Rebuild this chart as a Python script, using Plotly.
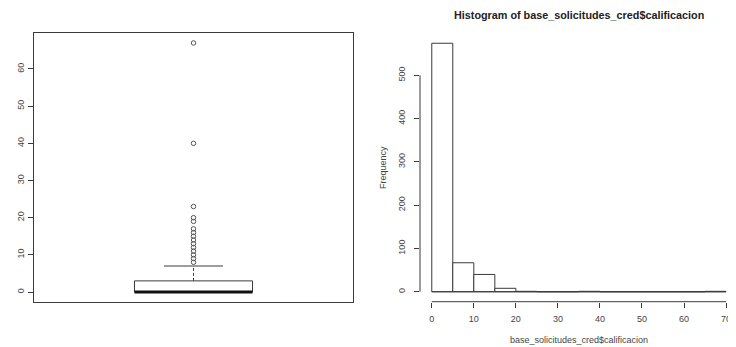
import plotly.graph_objects as go

# ---- data ----
box_q1 = 0
box_median = 0
box_q3 = 3
box_whisker_low = 0
box_whisker_high = 7
box_outliers = [8, 9, 10, 11, 12, 13, 14, 15, 16, 17, 19, 20, 23, 40, 67]
box_yticks = [0, 10, 20, 30, 40, 50, 60]

hist_edges = [0, 5, 10, 15, 20, 25, 30, 35, 40, 45, 50, 55, 60, 65, 70]
hist_counts = [574, 67, 40, 8, 1, 0, 0, 1, 0, 0, 0, 0, 0, 1]
hist_xticks = [0, 10, 20, 30, 40, 50, 60, 70]
hist_yticks = [0, 100, 200, 300, 400, 500]

hist_title = "Histogram of base_solicitudes_cred$calificacion"
hist_xlabel = "base_solicitudes_cred$calificacion"
hist_ylabel = "Frequency"

# ---- style ----
OFF = 8  # default page body margin
W, H = 736 - OFF, 347 - OFF
LINE = "#3a3a3a"
TXT = "#444444"
FONT = "Liberation Sans, Arial, sans-serif"

def px_x(p):
    return (p - OFF) / W

def px_y(p):
    return 1 - (p - OFF) / H

fig = go.Figure()

# ---- boxplot (left) ----
c = 1.0
hw = 0.185
cw = 0.0925
fig.add_trace(go.Scatter(
    x=[c - hw, c + hw, c + hw, c - hw, c - hw],
    y=[box_q1, box_q1, box_q3, box_q3, box_q1],
    mode="lines", line=dict(color=LINE, width=1), xaxis="x", yaxis="y",
    hoverinfo="skip"))
fig.add_trace(go.Scatter(
    x=[c - hw, c + hw], y=[box_median, box_median],
    mode="lines", line=dict(color="#111111", width=3), xaxis="x", yaxis="y",
    hoverinfo="skip"))
fig.add_trace(go.Scatter(
    x=[c, c], y=[box_q3, box_whisker_high],
    mode="lines", line=dict(color=LINE, width=1, dash="3px,2px"), xaxis="x", yaxis="y",
    hoverinfo="skip"))
fig.add_trace(go.Scatter(
    x=[c - cw, c + cw], y=[box_whisker_high, box_whisker_high],
    mode="lines", line=dict(color=LINE, width=1), xaxis="x", yaxis="y",
    hoverinfo="skip"))
fig.add_trace(go.Scatter(
    x=[c] * len(box_outliers), y=box_outliers,
    mode="markers", marker=dict(symbol="circle-open", size=4.5, color="#555555",
                                line=dict(width=1)),
    xaxis="x", yaxis="y", hoverinfo="skip"))

# ---- histogram (right) ----
centers = [(a + b) / 2 for a, b in zip(hist_edges[:-1], hist_edges[1:])]
widths = [b - a for a, b in zip(hist_edges[:-1], hist_edges[1:])]
fig.add_trace(go.Bar(
    x=centers, y=hist_counts, width=widths,
    marker=dict(color="white", line=dict(color=LINE, width=1)),
    xaxis="x2", yaxis="y2", hoverinfo="skip"))
fig.add_trace(go.Scatter(
    x=[hist_edges[0], hist_edges[-1]], y=[0, 0],
    mode="lines", line=dict(color=LINE, width=1),
    xaxis="x2", yaxis="y2", hoverinfo="skip"))

axis_common = dict(showgrid=False, zeroline=False, linecolor=LINE, tickcolor=LINE,
                   tickfont=dict(family=FONT, size=9, color=TXT))

fig.update_layout(
    width=W, height=H, margin=dict(l=0, r=0, t=0, b=0),
    paper_bgcolor="white", plot_bgcolor="white", showlegend=False,
    font=dict(family=FONT, color=TXT),
    xaxis=dict(domain=[px_x(34), px_x(353)], range=[0.5, 1.5], showticklabels=False,
               ticks="", showline=True, mirror=True, anchor="y", **axis_common),
    yaxis=dict(domain=[px_y(302), px_y(33)], range=[-2.68, 69.68], tickvals=box_yticks,
               ticks="outside", ticklen=5, tickangle=-90, showline=True, mirror=True,
               anchor="x", **axis_common),
    xaxis2=dict(domain=[px_x(420), 1.0], range=[-2.8, 72.37], tickvals=hist_xticks,
                ticks="outside", ticklen=5, showline=False, anchor="y2",
                ticklabelstandoff=3, **axis_common),
    yaxis2=dict(domain=[px_y(301.7), px_y(33.3)], range=[-22.96, 596.96],
                tickvals=hist_yticks, ticks="outside", ticklen=5, tickangle=-90,
                showline=False, anchor="x2", ticklabelstandoff=5, **axis_common),
    shapes=[
        dict(type="line", xref="x2", yref="y2 domain", x0=hist_xticks[0], x1=hist_xticks[-1],
             y0=0, y1=0, line=dict(color=LINE, width=1)),
        dict(type="line", xref="x2 domain", yref="y2", x0=0, x1=0,
             y0=hist_yticks[0], y1=hist_yticks[-1], line=dict(color=LINE, width=1)),
    ],
    annotations=[
        dict(text="<b>" + hist_title + "</b>", xref="paper", yref="paper",
             x=px_x(579), y=1.0, xanchor="center", yanchor="top", borderpad=0,
             showarrow=False, font=dict(family=FONT, size=10.8, color="#222222")),
        dict(text=hist_xlabel, xref="paper", yref="paper",
             x=px_x(579), y=px_y(340), xanchor="center", yanchor="middle",
             showarrow=False, font=dict(family=FONT, size=9, color=TXT)),
        dict(text=hist_ylabel, xref="paper", yref="paper",
             x=px_x(383), y=px_y(167), xanchor="center", yanchor="middle",
             textangle=-90, showarrow=False, font=dict(family=FONT, size=9, color=TXT)),
    ],
)

fig.write_html("out.html")
